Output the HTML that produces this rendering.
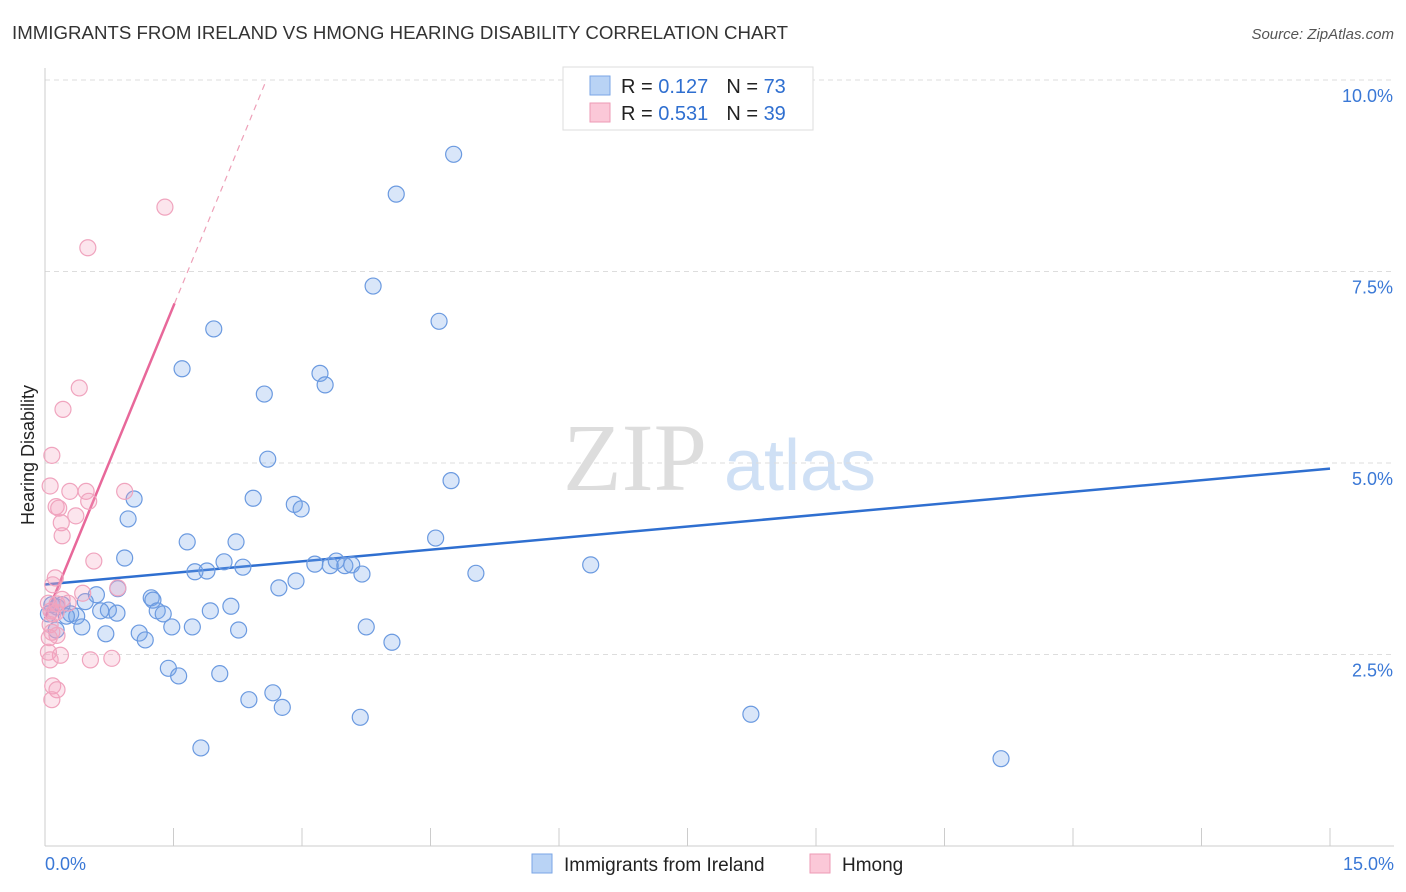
<!DOCTYPE html>
<html><head><meta charset="utf-8"><style>
body{margin:0;background:#fff;font-family:"Liberation Sans",sans-serif;}
svg{display:block}
</style></head><body>
<svg id="chart" width="1406" height="892">
<text x="12" y="39" font-size="18" fill="#333" textLength="776" lengthAdjust="spacingAndGlyphs">IMMIGRANTS FROM IRELAND VS HMONG HEARING DISABILITY CORRELATION CHART</text>
<text x="1394" y="39" font-size="15" fill="#555" font-style="italic" text-anchor="end">Source: ZipAtlas.com</text>
<text x="34" y="455" font-size="18" fill="#222" text-anchor="middle" transform="rotate(-90 34 455)">Hearing Disability</text>
<g><text x="635" y="490" font-size="96" fill="#ddd" font-family="Liberation Serif,serif" text-anchor="middle">ZIP</text><text x="800" y="490" font-size="72" fill="#cfe0f5" text-anchor="middle">atlas</text></g>
<g id="grid"></g><g id="axes"></g><g id="lines"></g><g id="pts"></g>
<g>
<rect x="563" y="67" width="250" height="63" fill="#fff" stroke="#ddd"/>
<rect x="590" y="76" width="20" height="19" fill="#b9d3f5" stroke="#7aa6e6"/>
<rect x="590" y="103" width="20" height="19" fill="#fbc8d8" stroke="#ee9ab5"/>
<text x="621" y="93" font-size="20" fill="#222">R = <tspan fill="#2f6fd0">0.127</tspan><tspan dx="18">N = </tspan><tspan fill="#2f6fd0">73</tspan></text>
<text x="621" y="120" font-size="20" fill="#222">R = <tspan fill="#2f6fd0">0.531</tspan><tspan dx="18">N = </tspan><tspan fill="#2f6fd0">39</tspan></text>
</g>
<g>
<rect x="532" y="854" width="20" height="19" fill="#b9d3f5" stroke="#7aa6e6"/>
<text x="564" y="871" font-size="19" fill="#222">Immigrants from Ireland</text>
<rect x="810" y="854" width="20" height="19" fill="#fbc8d8" stroke="#ee9ab5"/>
<text x="842" y="871" font-size="19" fill="#222">Hmong</text>
</g>
</svg>
<script>
const blueX=[4.77,4.10,3.83,4.60,1.97,1.60,3.21,3.27,2.56,2.60,4.74,1.04,2.43,2.91,2.99,0.97,4.56,1.66,2.23,0.93,2.09,2.31,3.15,3.33,3.40,3.50,3.58,3.70,5.03,6.37,1.75,1.89,2.93,2.73,0.85,0.08,0.14,0.20,0.60,0.47,0.74,0.65,0.84,1.24,1.26,1.31,1.38,1.93,2.17,0.30,0.37,0.25,0.04,0.13,0.43,0.71,1.10,1.17,1.48,1.72,2.26,3.75,4.05,1.44,1.56,2.04,2.66,2.38,2.77,3.68,8.24,1.82,11.16];
const blueY=[9.03,8.51,7.31,6.85,6.75,6.23,6.17,6.02,5.90,5.05,4.77,4.53,4.54,4.46,4.40,4.27,4.02,3.97,3.97,3.76,3.71,3.64,3.68,3.66,3.72,3.66,3.67,3.55,3.56,3.67,3.58,3.59,3.46,3.37,3.36,3.15,3.12,3.15,3.28,3.19,3.08,3.07,3.04,3.24,3.21,3.07,3.03,3.07,3.13,3.03,3.00,3.00,3.03,2.82,2.86,2.77,2.78,2.69,2.86,2.86,2.82,2.86,2.66,2.32,2.22,2.25,2.00,1.91,1.81,1.68,1.72,1.28,1.14];
const pinkX=[1.40,0.50,0.40,0.21,0.08,0.06,0.29,0.48,0.93,0.13,0.16,0.51,0.36,0.19,0.20,0.57,0.12,0.09,0.85,0.44,0.20,0.04,0.14,0.27,0.07,0.09,0.06,0.08,0.14,0.05,0.18,0.04,0.06,0.53,0.78,0.09,0.14,0.08,0.13];
const pinkY=[8.34,7.81,5.98,5.70,5.10,4.70,4.63,4.63,4.63,4.43,4.41,4.50,4.31,4.22,4.05,3.72,3.50,3.41,3.37,3.30,3.22,3.17,3.16,3.17,3.07,3.03,2.89,2.79,2.75,2.72,2.49,2.53,2.43,2.43,2.45,2.09,2.04,1.91,3.05];
const yTicks=[2.5,5.0,7.5,10.0];
const xTicks=[0,1.5,3,4.5,6,7.5,9,10.5,12,13.5,15];
const X0=45,X1=1330,YB=846,PPU=76.6;
const sx=v=>X0+(X1-X0)*v/15, sy=v=>YB-v*PPU;
const NS="http://www.w3.org/2000/svg";
function mk(p,tag,a){const e=document.createElementNS(NS,tag);for(const k in a)e.setAttribute(k,a[k]);p.appendChild(e);return e;}
const grid=document.getElementById('grid'),axes=document.getElementById('axes'),lines=document.getElementById('lines'),pts=document.getElementById('pts');
yTicks.forEach(t=>{
 const l=mk(grid,'line',{x1:X0,x2:1394,y1:sy(t),y2:sy(t),stroke:'#ddd','stroke-dasharray':'5,4'});
 
 
 const tx=mk(axes,'text',{x:1393,y:sy(t)+22,'font-size':18,fill:'#3a78d6','text-anchor':'end'});tx.textContent=t.toFixed(1)+'%';
 
 
});
mk(axes,'line',{x1:X0,x2:X0,y1:68,y2:846,stroke:'#ccc'});
mk(axes,'line',{x1:X0,x2:1394,y1:846,y2:846,stroke:'#ccc'});
xTicks.forEach(t=>{const l=mk(axes,'line',{x1:sx(t),x2:sx(t),y1:828,y2:846,stroke:'#ccc'});
 
 });
let a=mk(axes,'text',{x:45,y:870,'font-size':18,fill:'#3a78d6'});a.textContent='0.0%';


a=mk(axes,'text',{x:1394,y:870,'font-size':18,fill:'#3a78d6','text-anchor':'end'});a.textContent='15.0%';


function ols(xs,ys){const n=xs.length;let mx=0,my=0;for(let i=0;i<n;i++){mx+=xs[i];my+=ys[i];}mx/=n;my/=n;let sxy=0,sxx=0;for(let i=0;i<n;i++){sxy+=(xs[i]-mx)*(ys[i]-my);sxx+=(xs[i]-mx)**2;}const b=sxy/sxx;return [my-b*mx,b,mx,my];}
const [ba,bb]=ols(blueX,blueY);
let ln=mk(lines,'line',{x1:sx(0),y1:sy(ba),x2:sx(15),y2:sy(ba+bb*15),stroke:'#2f6fd0','stroke-width':2.5});


let [pa0,pb0,pmx,pmy]=ols(pinkX,pinkY);const pb=pb0*1.1,pa=pmy-pb*pmx;const pmax=Math.max(...pinkX)*1.08;
const xEnd=Math.min(15,(10.0-pa)/pb);
ln=mk(lines,'line',{x1:sx(pmax),y1:sy(pa+pb*pmax),x2:sx(xEnd),y2:sy(pa+pb*xEnd),stroke:'#eea0b8','stroke-width':1.2,'stroke-dasharray':'6,5'});


ln=mk(lines,'line',{x1:sx(0),y1:sy(pa),x2:sx(pmax),y2:sy(pa+pb*pmax),stroke:'#e8689a','stroke-width':2.5});


blueX.forEach((v,i)=>{const c=mk(pts,'circle',{cx:sx(v),cy:sy(blueY[i]),r:8,fill:'rgba(120,165,235,0.28)',stroke:'#6b9ae0','stroke-width':1.2});
 
 });
pinkX.forEach((v,i)=>{const c=mk(pts,'circle',{cx:sx(v),cy:sy(pinkY[i]),r:8,fill:'rgba(245,160,190,0.28)',stroke:'#f0a4be','stroke-width':1.2});
 
 });
</script>
</body></html>
